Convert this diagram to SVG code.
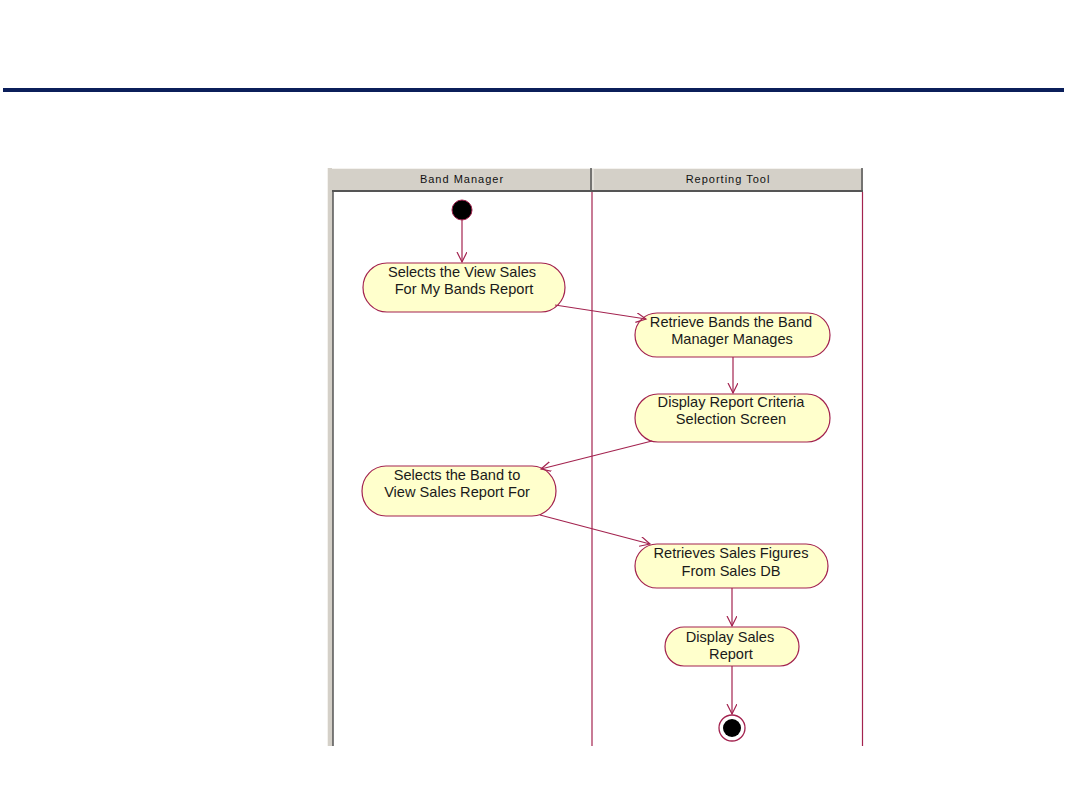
<svg xmlns="http://www.w3.org/2000/svg" width="1080" height="810" viewBox="0 0 1080 810">
<style>
.node rect{fill:#ffffcc;stroke:#a3234f;stroke-width:1.2}
.node text{font-family:"Liberation Sans",Arial,sans-serif;font-size:14.6px;fill:#1a1a1a;text-anchor:middle}
.hdr{font-family:"Liberation Sans",Arial,sans-serif;font-size:11px;fill:#111;text-anchor:middle;letter-spacing:1px}
#connectors line{stroke:#a3234f;stroke-width:1.2;fill:none;marker-end:url(#arr)}
.lane{stroke:#a3234f;stroke-width:1.2}
</style>
<defs>
<marker id="arr" markerWidth="12" markerHeight="12" refX="10" refY="5" orient="auto" markerUnits="userSpaceOnUse">
<path d="M0,0 L10,5 L0,10" fill="none" stroke="#a3234f" stroke-width="1.2"/>
</marker>
</defs>
<rect width="1080" height="810" fill="#ffffff"/>
<rect x="3" y="88" width="1061" height="4" fill="#0b1f5a"/>

<g id="swimlanes">
<rect x="327" y="168" width="6" height="578" fill="#d4d0c8"/>
<line x1="327.5" y1="168" x2="327.5" y2="746" stroke="#f4f2ee" stroke-width="1"/>
<line x1="333" y1="190" x2="333" y2="746" stroke="#555" stroke-width="1.5"/>
<rect x="332" y="168" width="531" height="22" fill="#d4d0c8"/>
<line x1="332" y1="168.5" x2="863" y2="168.5" stroke="#f4f2ee" stroke-width="1"/>
<line x1="332" y1="191" x2="863" y2="191" stroke="#555" stroke-width="2"/>
<line x1="591" y1="168" x2="591" y2="190" stroke="#555" stroke-width="1.5"/>
<line x1="593" y1="168" x2="593" y2="190" stroke="#f4f2ee" stroke-width="1"/>
<line x1="862" y1="168" x2="862" y2="190" stroke="#555" stroke-width="1.5"/>
<text class="hdr" x="462" y="183">Band Manager</text>
<text class="hdr" x="728" y="183">Reporting Tool</text>
<line class="lane" x1="592" y1="192" x2="592" y2="746"/>
<line class="lane" x1="862.5" y1="192" x2="862.5" y2="746"/>
</g>

<g id="start">
<circle cx="462" cy="210" r="10" fill="#000" stroke="#a3234f" stroke-width="1"/>
</g>

<g id="n1" class="node">
<rect x="363" y="263" width="202" height="49" rx="24" ry="24.5"/>
<text x="462" y="277">Selects the View Sales</text>
<text x="464" y="294">For My Bands Report</text>
</g>
<g id="n2" class="node">
<rect x="635" y="313" width="195" height="44" rx="22" ry="22"/>
<text x="731" y="327">Retrieve Bands the Band</text>
<text x="732" y="344">Manager Manages</text>
</g>
<g id="n3" class="node">
<rect x="635" y="394" width="195" height="48" rx="23" ry="24"/>
<text x="731" y="407">Display Report Criteria</text>
<text x="731" y="424">Selection Screen</text>
</g>
<g id="n4" class="node">
<rect x="362" y="466" width="194" height="50" rx="24" ry="25"/>
<text x="457" y="480">Selects the Band to</text>
<text x="457" y="497">View Sales Report For</text>
</g>
<g id="n5" class="node">
<rect x="635" y="544" width="193" height="44" rx="22" ry="22"/>
<text x="731" y="558">Retrieves Sales Figures</text>
<text x="731" y="576">From Sales DB</text>
</g>
<g id="n6" class="node">
<rect x="665" y="627" width="134" height="39" rx="19" ry="19.5"/>
<text x="730" y="642">Display Sales</text>
<text x="731" y="659">Report</text>
</g>
<g id="end">
<circle cx="732" cy="728" r="13" fill="#fff" stroke="#a3234f" stroke-width="1.3"/>
<circle cx="732" cy="728" r="9" fill="#000"/>
</g>

<g id="connectors">
<line x1="462" y1="220" x2="462" y2="262"/>
<line x1="555" y1="305" x2="646" y2="319"/>
<line x1="733" y1="357" x2="733" y2="393"/>
<line x1="652" y1="441" x2="541" y2="469"/>
<line x1="540" y1="515" x2="650" y2="544"/>
<line x1="732" y1="588" x2="732" y2="626"/>
<line x1="732" y1="666" x2="732" y2="714"/>
</g>
</svg>
